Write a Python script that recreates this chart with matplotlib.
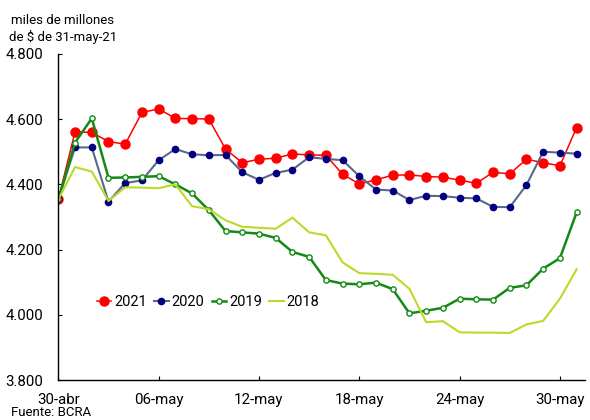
import numpy as np
import matplotlib.pyplot as plt
from matplotlib.ticker import FuncFormatter

plt.rcParams['font.family'] = ['Roboto', 'DejaVu Sans']

# one value per calendar day, 30-abr .. 31-may
dias = np.arange(32)
tick_pos = [0, 6, 12, 18, 24, 30]
tick_lab = ["30-abr", "06-may", "12-may", "18-may", "24-may", "30-may"]

y2021 = [4354, 4561, 4559, 4531, 4523, 4620, 4631, 4602, 4601, 4600,
         4508, 4466, 4477, 4480, 4493, 4490, 4489, 4431, 4401, 4414,
         4428, 4429, 4424, 4422, 4413, 4403, 4437, 4432, 4477, 4466,
         4457, 4574]
y2020 = [4354, 4513, 4513, 4347, 4404, 4412, 4474, 4508, 4492, 4489,
         4490, 4437, 4414, 4435, 4445, 4483, 4478, 4474, 4425, 4384,
         4381, 4352, 4365, 4364, 4359, 4357, 4331, 4330, 4398, 4500,
         4497, 4494]
y2019 = [4354, 4528, 4602, 4420, 4421, 4423, 4425, 4400, 4372, 4321,
         4257, 4253, 4249, 4236, 4193, 4178, 4107, 4096, 4094, 4099,
         4079, 4005, 4013, 4022, 4050, 4048, 4047, 4083, 4091, 4142,
         4174, 4314]
y2018 = [4354, 4453, 4439, 4349, 4391, 4390, 4388, 4400, 4333, 4324,
         4290, 4270, 4267, 4264, 4298, 4253, 4244, 4161, 4128, 4126,
         4123, 4080, 3978, 3981, 3947, 3946, 3946, 3945, 3971, 3982,
         4050, 4140]

fig = plt.figure(figsize=(5.9, 4.2), dpi=100)
ax = fig.add_axes([57.5/590, 1-380.3/420, (585-57.5)/590, (380.3-53.7)/420])

ax.plot(dias, y2021, color="#ff0000", lw=1.1, marker="o", ms=6.5,
        mec="#ff0000", mfc="#ff0000", label="2021")
ax.plot(dias, y2020, color="#5a6888", lw=1.5, marker="o", ms=4.5,
        mec="#000080", mfc="#000080", label="2020")
ax.plot(dias, y2019, color="#138a13", lw=1.8, marker="o", ms=3.8,
        mec="#138a13", mfc="white", mew=1.0, label="2019")
ax.plot(dias, y2018, color="#bcd92a", lw=1.5, label="2018")

ax.set_xlim(-0.05, 31.5)
ax.set_ylim(3800, 4800)
ax.set_yticks(np.arange(3800, 4801, 200))
ax.yaxis.set_major_formatter(FuncFormatter(lambda v, p: f"{v/1000:.3f}"))
ax.set_xticks(tick_pos)
ax.set_xticklabels(tick_lab)

for s in ["top", "right"]:
    ax.spines[s].set_visible(False)
for s in ["left", "bottom"]:
    ax.spines[s].set_color("black")
    ax.spines[s].set_linewidth(1.0)
ax.tick_params(axis="y", direction="in", length=3, pad=10, labelsize=10.8)
ax.tick_params(axis="x", direction="in", length=3, pad=9, labelsize=10.8)

ax.legend(loc="center", bbox_to_anchor=(208/590, 1-302/420),
          bbox_transform=fig.transFigure, ncol=4, frameon=False,
          fontsize=10.5, handlelength=1.0, handletextpad=0.2,
          columnspacing=0.5, borderpad=0)

fig.text(63/590, 1-21/420, "miles de millones", ha="center", va="center", fontsize=9.5)
fig.text(63/590, 1-37/420, "de $ de 31-may-21", ha="center", va="center", fontsize=9.5)
fig.text(11/590, 1-419.5/420, "Fuente: BCRA", ha="left", va="bottom", fontsize=9.5)

fig.savefig("out.png", dpi=100)
